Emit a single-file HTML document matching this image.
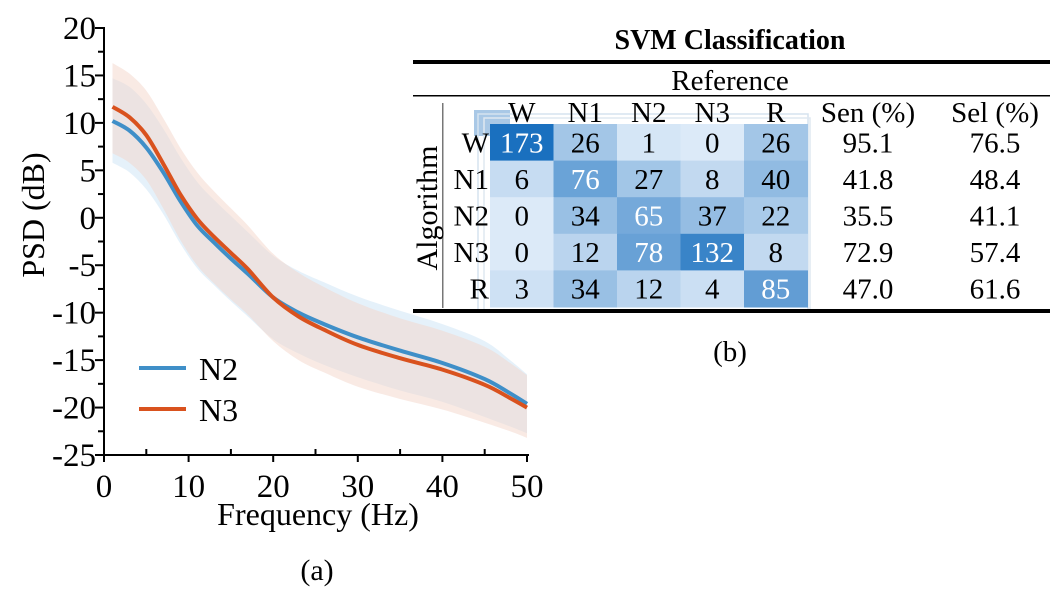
<!DOCTYPE html>
<html><head><meta charset="utf-8"><style>
html,body{margin:0;padding:0;background:#fff;}
svg{display:block;}
text{font-family:"Liberation Serif","DejaVu Serif","Noto Serif CJK SC",serif;}
</style></head><body>
<svg id="fig" width="1059" height="598" viewBox="0 0 1059 598">
<g id="plotA"></g>
<g id="tableB"></g>
</svg>
<script>
// ---- Chart (a) data ----
const freqs = [1, 3, 5, 7, 9, 11, 13, 15, 17, 20, 23, 26, 30, 35, 40, 45, 48, 50];
const n2Mean = [10.2, 9.2, 7.4, 4.8, 1.8, -0.8, -2.6, -4.3, -5.9, -8.4, -10.0, -11.2, -12.6, -14.0, -15.3, -17.0, -18.5, -19.6];
const n2Upper = [14.7, 13.8, 12.0, 9.4, 6.4, 3.8, 1.9, 0.2, -1.5, -4.0, -5.6, -6.8, -8.3, -9.8, -11.2, -13.0, -15.0, -16.5];
const n2Lower = [5.8, 4.8, 3.0, 0.4, -2.7, -5.3, -7.1, -8.8, -10.4, -12.8, -14.3, -15.5, -16.8, -18.2, -19.4, -21.0, -22.0, -22.7];
const n3Mean = [11.7, 10.6, 8.7, 5.7, 2.5, -0.1, -2.0, -3.7, -5.4, -8.4, -10.4, -11.8, -13.4, -14.8, -16.0, -17.6, -19.0, -20.0];
const n3Upper = [16.3, 15.2, 13.4, 10.5, 7.4, 4.8, 2.8, 1.0, -0.8, -3.8, -5.8, -7.3, -9.0, -10.6, -11.9, -13.6, -15.3, -16.6];
const n3Lower = [6.8, 5.8, 4.0, 1.0, -2.3, -5.0, -6.9, -8.6, -10.2, -13.0, -15.0, -16.3, -17.8, -19.1, -20.2, -21.6, -22.5, -23.2];
const xTicks = [0, 10, 20, 30, 40, 50];
const yTicks = [20, 15, 10, 5, 0, -5, -10, -15, -20, -25];

// ---- Table (b) data ----
const classes = ["W", "N1", "N2", "N3", "R"];
const confusion = [
  [173, 26, 1, 0, 26],
  [6, 76, 27, 8, 40],
  [0, 34, 65, 37, 22],
  [0, 12, 78, 132, 8],
  [3, 34, 12, 4, 85]
];
const sensitivity = ["95.1", "41.8", "35.5", "72.9", "47.0"];
const selectivity = ["76.5", "48.4", "41.1", "57.4", "61.6"];

const NS = "http://www.w3.org/2000/svg";
function mk(parent, tag, attrs, text) {
  const e = document.createElementNS(NS, tag);
  for (const k in attrs) e.setAttribute(k, attrs[k]);
  if (tag === 'text') e.style.fontFamily = '"Liberation Serif", "DejaVu Serif", "Noto Serif CJK SC", serif';
  if (text !== undefined) e.textContent = text;
  parent.appendChild(e);
  return e;
}

const X0 = 104, X1 = 527, Y20 = 28, Ym25 = 455;
const xs = f => X0 + (f - 0) / 50 * (X1 - X0);
const ys = v => Y20 + (20 - v) / 45 * (Ym25 - Y20);

const A = document.getElementById('plotA');
function smoothPts(p) {
  let d = "M" + p[0][0].toFixed(1) + "," + p[0][1].toFixed(1);
  for (let i = 0; i < p.length - 1; i++) {
    const p0 = p[i - 1] || p[i], p1 = p[i], p2 = p[i + 1], p3 = p[i + 2] || p2;
    const c1 = [p1[0] + (p2[0] - p0[0]) / 6, p1[1] + (p2[1] - p0[1]) / 6];
    const c2 = [p2[0] - (p3[0] - p1[0]) / 6, p2[1] - (p3[1] - p1[1]) / 6];
    d += " C" + c1.map(v => v.toFixed(1)).join(",") + " " + c2.map(v => v.toFixed(1)).join(",") + " " + p2.map(v => v.toFixed(1)).join(",");
  }
  return d;
}
function smoothPath(vs) {
  return smoothPts(freqs.map((f, i) => [xs(f), ys(vs[i])]));
}
function bandPath(up, lo) {
  const top = smoothPts(freqs.map((f, i) => [xs(f), ys(up[i])]));
  const botPts = freqs.map((f, i) => [xs(f), ys(lo[i])]).reverse();
  const bot = smoothPts(botPts).replace(/^M/, " L");
  return top + bot + " Z";
}
let b = mk(A, 'path', {d: bandPath(n2Upper, n2Lower), fill: '#d3e8f6', 'fill-opacity': '0.6'});


b = mk(A, 'path', {d: bandPath(n3Upper, n3Lower), fill: '#f3d6ca', 'fill-opacity': '0.5'});


let l = mk(A, 'path', {d: smoothPath(n2Mean), fill: 'none', stroke: '#3f8fc8', 'stroke-width': 4});


l = mk(A, 'path', {d: smoothPath(n3Mean), fill: 'none', stroke: '#d9521e', 'stroke-width': 4});



const ax = mk(A, 'g', {stroke: '#000', 'stroke-width': 2});


mk(ax, 'line', {x1: X0, y1: Y20 - 1, x2: X0, y2: Ym25 + 1});
mk(ax, 'line', {x1: X0 - 1, y1: Ym25, x2: X1 + 2, y2: Ym25});
for (let v = -25; v <= 20; v += 2.5) {
  const major = v % 5 === 0;
  mk(ax, 'line', {x1: X0 - (major ? 9 : 6), y1: ys(v), x2: X0, y2: ys(v)});
}
for (let f = 0; f <= 50; f += 5) {
  mk(ax, 'line', {x1: xs(f), y1: Ym25, x2: xs(f), y2: Ym25 - (f % 10 === 0 ? 0 : 6)});
  if (f % 10 === 0) mk(ax, 'line', {x1: xs(f), y1: Ym25, x2: xs(f), y2: Ym25 + 7});
}
yTicks.forEach(v => {
  const t = mk(A, 'text', {x: X0 - 8, y: ys(v) + 11, 'text-anchor': 'end', 'font-size': 33}, String(v));
  
  
});
xTicks.forEach(v => {
  const t = mk(A, 'text', {x: xs(v), y: 497, 'text-anchor': 'middle', 'font-size': 33}, String(v));
  
  
});
let t = mk(A, 'text', {x: 318, y: 525, 'text-anchor': 'middle', 'font-size': 32}, 'Frequency (Hz)');


t = mk(A, 'text', {x: 0, y: 0, 'text-anchor': 'middle', 'font-size': 32, transform: 'translate(44,215) rotate(-90)'}, 'PSD (dB)');


t = mk(A, 'text', {x: 317, y: 580, 'text-anchor': 'middle', 'font-size': 30}, '(a)');


const lg = mk(A, 'g', {});


mk(lg, 'line', {x1: 139, y1: 368, x2: 186, y2: 368, stroke: '#3f8fc8', 'stroke-width': 4});
mk(lg, 'text', {x: 199, y: 380, 'font-size': 32}, 'N2');
mk(lg, 'line', {x1: 139, y1: 409, x2: 186, y2: 409, stroke: '#d9521e', 'stroke-width': 4});
mk(lg, 'text', {x: 199, y: 421, 'font-size': 32}, 'N3');

// ---- Table ----
const B = document.getElementById('tableB');
const CX0 = 490, CW = 63.5, RY0 = 124, RH = 36.6;
const cx = j => CX0 + j * CW;
const ry = i => RY0 + i * RH;
const maxV = 173;
function cellColor(v) {
  const tt = Math.pow(v / maxV, 0.65);
  const a = [220, 234, 248], c = [26, 112, 191];
  return 'rgb(' + a.map((s, k) => Math.round(s + (c[k] - s) * tt)).join(',') + ')';
}
t = mk(B, 'text', {x: 730, y: 49, 'text-anchor': 'middle', 'font-size': 28, 'font-weight': 'bold'}, 'SVM Classification');


mk(B, 'rect', {x: 413, y: 60, width: 637, height: 4, fill: '#000'});
t = mk(B, 'text', {x: 730, y: 90, 'text-anchor': 'middle', 'font-size': 29}, 'Reference');


mk(B, 'rect', {x: 413, y: 95, width: 637, height: 1.5, fill: '#000'});
mk(B, 'rect', {x: 474, y: 110, width: 36, height: 26, fill: '#a9c8e6'});
mk(B, 'rect', {x: 478, y: 114, width: 330, height: 196, fill: 'none', stroke: '#d6e3ef', 'stroke-width': 1.5});
mk(B, 'rect', {x: 484, y: 118, width: 326, height: 192, fill: 'none', stroke: '#dfe8f1', 'stroke-width': 1.5});
confusion.forEach((row, i) => {
  row.forEach((v, j) => {
    const r = mk(B, 'rect', {x: cx(j), y: ry(i), width: CW + 0.5, height: RH + 0.5, fill: cellColor(v)});
    
    
    const tx = mk(B, 'text', {x: cx(j) + CW / 2, y: ry(i) + RH / 2 + 10, 'text-anchor': 'middle', 'font-size': 29, fill: v > 60 ? '#fff' : '#000'}, String(v));
    
    
  });
  let rl = mk(B, 'text', {x: 489, y: ry(i) + RH / 2 + 10, 'text-anchor': 'end', 'font-size': 29}, classes[i]);
  
  
  rl = mk(B, 'text', {x: 868, y: ry(i) + RH / 2 + 10, 'text-anchor': 'middle', 'font-size': 29}, sensitivity[i]);
  
  
  rl = mk(B, 'text', {x: 995, y: ry(i) + RH / 2 + 10, 'text-anchor': 'middle', 'font-size': 29}, selectivity[i]);
  
  
});
classes.forEach((c, j) => {
  const h = mk(B, 'text', {x: cx(j) + CW / 2, y: 122, 'text-anchor': 'middle', 'font-size': 29}, c);
  
  
});
t = mk(B, 'text', {x: 868, y: 122, 'text-anchor': 'middle', 'font-size': 29}, 'Sen (%)');


t = mk(B, 'text', {x: 995, y: 122, 'text-anchor': 'middle', 'font-size': 29}, 'Sel (%)');


mk(B, 'rect', {x: 442, y: 103, width: 1.5, height: 205, fill: '#777'});
t = mk(B, 'text', {x: 0, y: 0, 'text-anchor': 'middle', 'font-size': 30, transform: 'translate(437,208) rotate(-90)'}, 'Algorithm');


mk(B, 'rect', {x: 413, y: 309, width: 637, height: 4, fill: '#000'});
t = mk(B, 'text', {x: 730, y: 361, 'text-anchor': 'middle', 'font-size': 29}, '(b)');


</script>
</body></html>
